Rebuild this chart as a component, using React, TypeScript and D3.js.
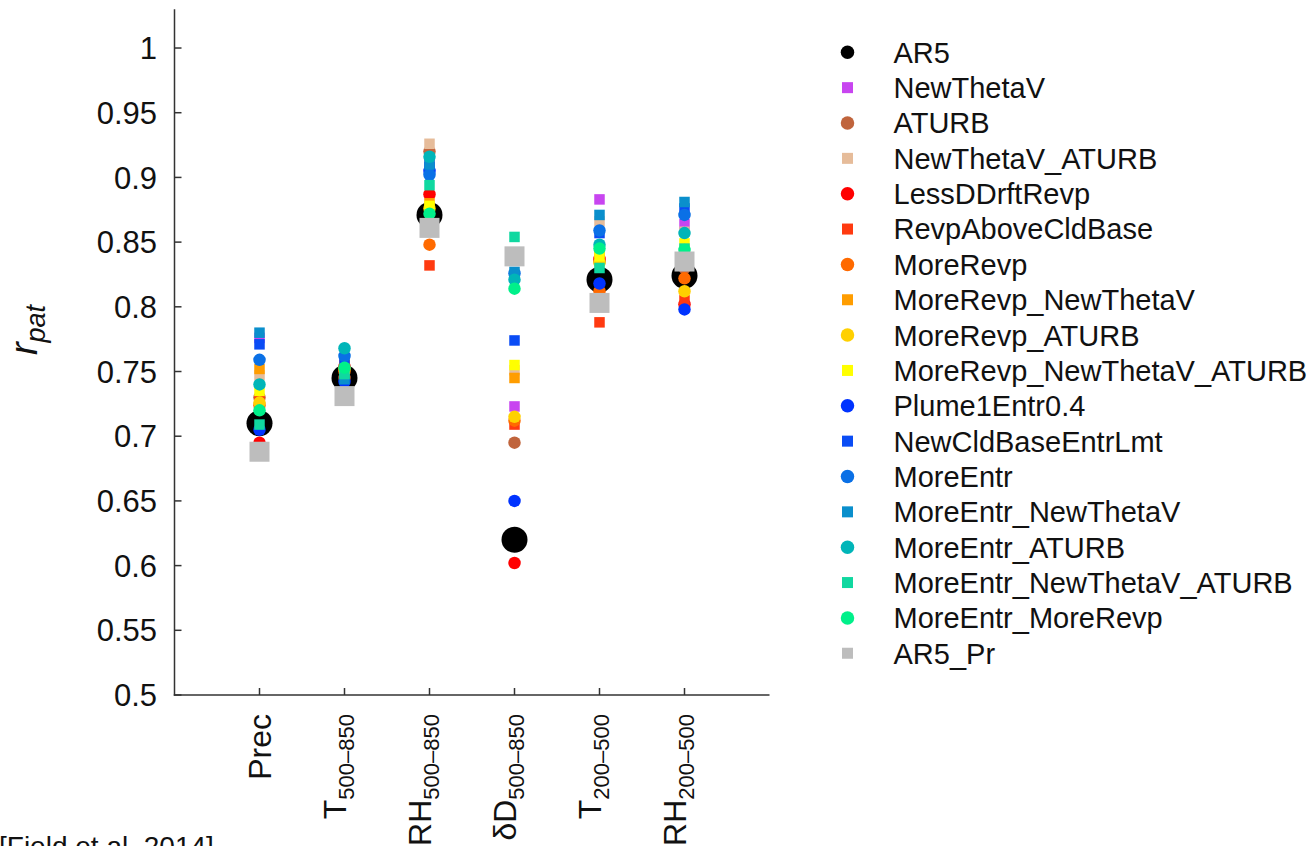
import React, { useRef, useEffect } from 'react';
import * as d3 from 'd3';

const categories = ['Prec', 'T', 'RH', 'δD', 'T', 'RH'];
const categorySubs = ['', '500–850', '500–850', '500–850', '200–500', '200–500'];

const yTicks = [0.5, 0.55, 0.6, 0.65, 0.7, 0.75, 0.8, 0.85, 0.9, 0.95, 1];
const yTickLabels = ['0.5', '0.55', '0.6', '0.65', '0.7', '0.75', '0.8', '0.85', '0.9', '0.95', '1'];

const seriesNames = [
  'AR5', 'NewThetaV', 'ATURB', 'NewThetaV_ATURB', 'LessDDrftRevp', 'RevpAboveCldBase',
  'MoreRevp', 'MoreRevp_NewThetaV', 'MoreRevp_ATURB', 'MoreRevp_NewThetaV_ATURB',
  'Plume1Entr0.4', 'NewCldBaseEntrLmt', 'MoreEntr', 'MoreEntr_NewThetaV',
  'MoreEntr_ATURB', 'MoreEntr_NewThetaV_ATURB', 'MoreEntr_MoreRevp', 'AR5_Pr'
];
const seriesColors = [
  '#000000', '#c845f0', '#c0643c', '#e6bc9a', '#ff0000', '#ff3a10',
  '#ff6a00', '#ff9d00', '#ffd000', '#ffff00',
  '#0033ff', '#0a4cf5', '#0a70e6', '#0a8fcc',
  '#00b5b8', '#10d8a0', '#00f08a', '#bdbdbd'
];
const seriesShapes = [
  'circle', 'square', 'circle', 'square', 'circle', 'square',
  'circle', 'square', 'circle', 'square',
  'circle', 'square', 'circle', 'square',
  'circle', 'square', 'circle', 'square'
];

// r_pat per category: Prec, T500-850, RH500-850, dD500-850, T200-500, RH200-500
const AR5 = [0.710, 0.745, 0.871, 0.620, 0.821, 0.824];
const NewThetaV = [0.776, 0.750, 0.912, 0.723, 0.883, 0.864];
const ATURB = [0.730, 0.745, 0.920, 0.695, 0.835, 0.830];
const NewThetaV_ATURB = [0.747, 0.752, 0.926, 0.751, 0.866, 0.858];
const LessDDrftRevp = [0.695, 0.754, 0.887, 0.602, 0.837, 0.802];
const RevpAboveCldBase = [0.727, 0.755, 0.832, 0.709, 0.788, 0.805];
const MoreRevp = [0.724, 0.750, 0.848, 0.712, 0.812, 0.822];
const MoreRevp_NewThetaV = [0.752, 0.748, 0.880, 0.745, 0.842, 0.840];
const MoreRevp_ATURB = [0.726, 0.752, 0.876, 0.715, 0.834, 0.812];
const MoreRevp_NewThetaV_ATURB = [0.735, 0.750, 0.878, 0.755, 0.839, 0.849];
const Plume1Entr04 = [0.705, 0.742, 0.905, 0.650, 0.818, 0.798];
const NewCldBaseEntrLmt = [0.771, 0.760, 0.908, 0.774, 0.857, 0.876];
const MoreEntr = [0.759, 0.762, 0.902, 0.826, 0.859, 0.871];
const MoreEntr_NewThetaV = [0.780, 0.744, 0.910, 0.827, 0.871, 0.881];
const MoreEntr_ATURB = [0.740, 0.768, 0.916, 0.821, 0.848, 0.857];
const MoreEntr_NewThetaV_ATURB = [0.709, 0.748, 0.894, 0.854, 0.830, 0.845];
const MoreEntr_MoreRevp = [0.720, 0.753, 0.872, 0.814, 0.845, 0.844];
const AR5_Pr = [0.688, 0.731, 0.861, 0.839, 0.803, 0.835];

const seriesValues = [
  AR5, NewThetaV, ATURB, NewThetaV_ATURB, LessDDrftRevp, RevpAboveCldBase,
  MoreRevp, MoreRevp_NewThetaV, MoreRevp_ATURB, MoreRevp_NewThetaV_ATURB,
  Plume1Entr04, NewCldBaseEntrLmt, MoreEntr, MoreEntr_NewThetaV,
  MoreEntr_ATURB, MoreEntr_NewThetaV_ATURB, MoreEntr_MoreRevp, AR5_Pr
];

const FONT = '"Liberation Sans", Arial, Helvetica, sans-serif';

const App = () => {
  const svgRef = useRef(null);

  useEffect(() => {
    if (svgRef.current) draw(svgRef);
  }, []);

  return (
    <svg
      ref={svgRef}
      width={1315}
      height={846}
      style={{ position: 'absolute', left: 0, top: 0, background: '#fff' }}
    />
  );
};

export default App;

const draw = (svgRef) => {
  const svg = d3.select(svgRef.current);
  svg.selectAll('*').remove();

  const left = 174.5;
  const bottom = 695;
  const x = d3.scaleLinear().domain([0, 7]).range([left, 769.5]);
  const y = d3.scaleLinear().domain([0.5, 1.03]).range([bottom, 9.2]);
  const axisColor = '#333';

  // axes
  svg.append('line')
    .attr('x1', left).attr('x2', left)
    .attr('y1', y(1.03)).attr('y2', bottom + 0.75)
    .attr('stroke', axisColor).attr('stroke-width', 1.5);
  svg.append('line')
    .attr('x1', left - 0.75).attr('x2', x(7))
    .attr('y1', bottom).attr('y2', bottom)
    .attr('stroke', axisColor).attr('stroke-width', 1.5);

  // y ticks
  const yt = svg.append('g');
  yt.selectAll('line').data(yTicks).enter().append('line')
    .attr('x1', left).attr('x2', left + 7)
    .attr('y1', (d) => y(d)).attr('y2', (d) => y(d))
    .attr('stroke', axisColor).attr('stroke-width', 1.5);
  yt.selectAll('text').data(yTicks).enter().append('text')
    .attr('x', 157)
    .attr('y', (d) => y(d))
    .attr('dy', '0.36em')
    .attr('text-anchor', 'end')
    .style('font-family', FONT)
    .style('font-size', '31px')
    .attr('fill', '#111')
    .text((d, i) => yTickLabels[i]);

  // x ticks
  const idx = categories.map((c, i) => i + 1);
  const xt = svg.append('g');
  xt.selectAll('line').data(idx).enter().append('line')
    .attr('x1', (d) => x(d)).attr('x2', (d) => x(d))
    .attr('y1', bottom).attr('y2', bottom - 7)
    .attr('stroke', axisColor).attr('stroke-width', 1.5);

  categories.forEach((c, i) => {
    const hasSub = categorySubs[i] !== '';
    const t = svg.append('text')
      .attr('transform', `translate(${x(i + 1) + (hasSub ? 1.5 : 11)},714) rotate(-90)`)
      .attr('text-anchor', 'end')
      .style('font-family', FONT)
      .attr('fill', '#111');
    t.append('tspan').style('font-size', '32px').text(c);
    if (hasSub) {
      t.append('tspan').style('font-size', '22px').attr('dy', 8).text(categorySubs[i]);
    }
  });

  // y label
  const yl = svg.append('text')
    .attr('transform', 'translate(37,330) rotate(-90)')
    .attr('text-anchor', 'middle')
    .style('font-family', FONT)
    .style('font-style', 'italic')
    .attr('fill', '#111');
  yl.append('tspan').style('font-size', '38px').text('r');
  yl.append('tspan').style('font-size', '27px').attr('dy', 8).text('pat');

  // points
  const marker = (g, shape, color, size) => {
    if (shape === 'circle') {
      g.append('circle').attr('r', size / 2).attr('fill', color);
    } else {
      g.append('rect')
        .attr('x', -size / 2).attr('y', -size / 2)
        .attr('width', size).attr('height', size)
        .attr('fill', color);
    }
  };

  const plot = svg.append('g');
  seriesNames.forEach((name, s) => {
    const big = name === 'AR5' || name === 'AR5_Pr';
    const size = seriesShapes[s] === 'circle' ? (big ? 26 : 12.5) : (big ? 20 : 10.5);
    seriesValues[s].forEach((v, i) => {
      const g = plot.append('g').attr('transform', `translate(${x(i + 1)},${y(v)})`);
      marker(g, seriesShapes[s], seriesColors[s], size);
    });
  });

  // legend
  const legend = svg.append('g');
  seriesNames.forEach((name, s) => {
    const ly = 52.3 + s * 35.35;
    const g = legend.append('g').attr('transform', `translate(847.5,${ly})`);
    marker(g, seriesShapes[s], seriesColors[s], seriesShapes[s] === 'circle' ? 13.5 : 11);
    legend.append('text')
      .attr('x', 893.5).attr('y', ly)
      .attr('dy', '0.36em')
      .style('font-family', FONT)
      .style('font-size', '29px')
      .attr('fill', '#111')
      .text(name);
  });

  // source note, cut by the bottom edge as in the original
  svg.append('text')
    .attr('x', -1).attr('y', 856)
    .style('font-family', FONT)
    .style('font-size', '28px')
    .attr('fill', '#111')
    .text('[Field et al. 2014]');

  return svg.node();
};
